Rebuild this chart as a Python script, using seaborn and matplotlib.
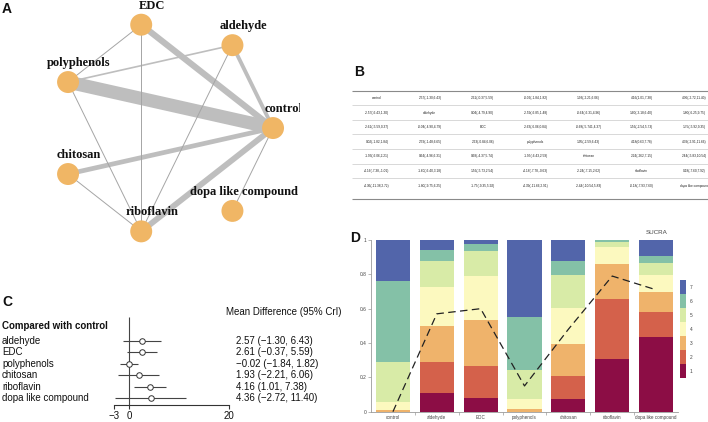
import numpy as np
import pandas as pd
import matplotlib
matplotlib.use("Agg")
import matplotlib.pyplot as plt
import seaborn as sns

# ---------------- data ----------------
nodes = ["control", "aldehyde", "EDC", "polyphenols", "chitosan", "riboflavin", "dopa like compound"]

edge_from = ["polyphenols", "EDC", "riboflavin", "chitosan", "aldehyde", "polyphenols",
             "EDC", "EDC", "polyphenols", "aldehyde", "chitosan", "dopa like compound"]
edge_to = ["control", "control", "control", "control", "control", "aldehyde",
           "polyphenols", "riboflavin", "riboflavin", "riboflavin", "riboflavin", "control"]
edge_weight = [9.5, 4.5, 4.2, 3.4, 2.8, 1.2, 0.7, 0.7, 0.7, 0.7, 0.7, 0.7]

league_rows = [
    ["control", "2.57(-1.30,6.43)", "2.61(-0.37,5.59)", "-0.02(-1.84,1.82)", "1.93(-2.21,6.06)", "4.16(1.01,7.38)", "4.36(-2.72,11.40)"],
    ["-2.57(-6.43,1.30)", "aldehyde", "0.04(-4.79,4.90)", "-2.59(-6.85,1.48)", "-0.64(-6.31,4.96)", "1.60(-3.18,6.40)", "1.80(-6.25,9.75)"],
    ["-2.61(-5.59,0.37)", "-0.04(-4.90,4.79)", "EDC", "-2.63(-6.06,0.84)", "-0.68(-5.741,4.37)", "1.56(-2.54,5.73)", "1.75(-5.92,9.35)"],
    ["0.02(-1.82,1.84)", "2.59(-1.48,6.65)", "2.63(-0.84,6.06)", "polyphenols", "1.95(-2.59,6.43)", "4.18(0.63,7.78)", "4.39(-2.91,11.66)"],
    ["-1.93(-6.06,2.21)", "0.64(-4.96,6.31)", "0.68(-4.37,5.74)", "-1.95(-6.43,2.59)", "chitosan", "2.24(-262,7.15)", "2.44(-5.83,10.54)"],
    ["-4.16(-7.38,-1.01)", "-1.60(-6.40,3.18)", "1.56(-5.73,2.54)", "-4.18(-7.78,-0.63)", "-2.24(-7.15,2.62)", "riboflavin", "0.18(-7.60,7.92)"],
    ["-4.36(-11.38,2.72)", "-1.80(-9.75,6.25)", "-1.75(-9.35,5.92)", "-4.39(-11.66,2.91)", "-2.44(-10.54,5.83)", "-0.18(-7.93,7.60)", "dopa like compound"],
]

forest_treat = ["aldehyde", "EDC", "polyphenols", "chitosan", "riboflavin", "dopa like compound"]
forest_md = [2.57, 2.61, -0.02, 1.93, 4.16, 4.36]
forest_lo = [-1.30, -0.37, -1.84, -2.21, 1.01, -2.72]
forest_hi = [6.43, 5.59, 1.82, 6.06, 7.38, 11.40]
forest_ticks = [-3, 0, 20]

rank_cats = ["control", "aldehyde", "EDC", "polyphenols", "chitosan", "riboflavin", "dopa like compound"]
rank_p1 = [0.000, 0.107, 0.082, 0.000, 0.074, 0.307, 0.437]
rank_p2 = [0.000, 0.181, 0.186, 0.000, 0.136, 0.349, 0.145]
rank_p3 = [0.010, 0.213, 0.266, 0.017, 0.184, 0.204, 0.113]
rank_p4 = [0.045, 0.227, 0.256, 0.057, 0.212, 0.101, 0.101]
rank_p5 = [0.236, 0.151, 0.148, 0.169, 0.190, 0.029, 0.072]
rank_p6 = [0.472, 0.063, 0.037, 0.307, 0.082, 0.008, 0.039]
rank_p7 = [0.237, 0.058, 0.025, 0.450, 0.122, 0.002, 0.093]
sucra = [0.00, 0.57, 0.60, 0.15, 0.48, 0.79, 0.71]
rank_labels = ["1", "2", "3", "4", "5", "6", "7"]
rank_colors = ["#8C0D45", "#D4614B", "#EFB36B", "#FCF9BF", "#D8EBA7", "#84C1A7", "#5265AA"]

# ---------------- figure ----------------
sns.set_theme(style="white")
plt.rcParams["font.family"] = ["Liberation Sans", "DejaVu Sans"]

W, H = 708, 422
fig = plt.figure(figsize=(W / 100, H / 100), dpi=100)


def rect(x0, y0, x1, y1):
    return [x0 / W, 1 - y1 / H, (x1 - x0) / W, (y1 - y0) / H]


def letter(x, y, s):
    fig.text(x / W, 1 - y / H, s, fontsize=10, fontweight="bold", ha="left", va="center", color="#111")


# ---- Panel A: network ----
axA = fig.add_axes(rect(0, 0, 300, 260))
ang = 2 * np.pi * np.arange(len(nodes)) / len(nodes)
pos = {n: (np.cos(a), np.sin(a)) for n, a in zip(nodes, ang)}
for a, b, w in zip(edge_from, edge_to, edge_weight):
    (x0, y0), (x1, y1) = pos[a], pos[b]
    axA.plot([x0, x1], [y0, y1], color="#BEBEBE" if w > 1 else "#A5A5A5", lw=w,
             solid_capstyle="butt", zorder=1)
node_df = pd.DataFrame({"x": [pos[n][0] for n in nodes], "y": [pos[n][1] for n in nodes]})
sns.scatterplot(data=node_df, x="x", y="y", s=250, color="#F0B665", edgecolor="none",
                ax=axA, zorder=3, legend=False)
for n in nodes:
    axA.annotate(n, pos[n], xytext=(11, 19), textcoords="offset pixels", ha="center", va="center",
                 fontfamily="Liberation Serif", fontweight="bold", fontsize=9, color="#111",
                 clip_on=True, annotation_clip=False, zorder=4)
axA.set_xlim(-1.532, 1.250)
axA.set_ylim(-1.245, 1.208)
axA.axis("off")
letter(2, 9, "A")

# ---- Panel B: league table ----
axB = fig.add_axes(rect(340, 60, 708, 230))
axB.set_xlim(340, 708)
axB.set_ylim(230, 60)
axB.axis("off")
row_y0, row_dy = 98, 14.6
col_x0, col_dx = 377, 52.9
nrow = len(league_rows)
line_y = [row_y0 - row_dy / 2 + row_dy * k for k in range(nrow)] + [row_y0 + row_dy * (nrow - 1) + 13.5]
for k, yy in enumerate(line_y):
    edge = k in (0, nrow)
    axB.hlines(yy, 352, 708, color="#8A8A8A" if edge else "#C9C9C9", lw=0.8 if edge else 0.5)
for i, row in enumerate(league_rows):
    for j, s in enumerate(row):
        axB.text(col_x0 + col_dx * j, row_y0 + row_dy * i, s, ha="center", va="center",
                 fontsize=2.3, color="#222")
letter(354, 72, "B")

# ---- Panel C: forest plot ----
axC = fig.add_axes(rect(0, 290, 300, 420))
px_per_unit, zero_px = 5.0, 129.0
row0_px, rowstep_px = 340.7, 11.47
top_px, bot_px = 290, 420


def cx(px):
    return (px - zero_px) / px_per_unit


def cy(px):
    return (px - row0_px) / rowstep_px


axC.set_xlim(cx(0), cx(300))
axC.set_ylim(cy(bot_px), cy(top_px))
axis_y = cy(405)
for i, (t, m, lo, hi) in enumerate(zip(forest_treat, forest_md, forest_lo, forest_hi)):
    axC.hlines(i, lo, hi, color="#444", lw=0.8, zorder=2)
    axC.plot(m, i, "o", mfc="white", mec="#333", ms=4, mew=0.7, zorder=3)
    axC.text(cx(2), i, t, ha="left", va="center", fontsize=7, color="#111")
    lab = f"{m:.2f} ({lo:.2f}, {hi:.2f})".replace("-", "\u2212")
    axC.text(cx(236), i, lab, ha="left", va="center", fontsize=7, color="#111")
axC.vlines(0, cy(316.5), axis_y, color="#444", lw=0.8, zorder=1)
axC.text(cx(2), cy(326), "Compared with control", ha="left", va="center", fontsize=7,
         fontweight="bold", color="#111")
axC.text(cx(225.5), cy(312), "Mean Difference (95% CrI)", ha="left", va="center", fontsize=7,
         color="#111")
for s in ["top", "right", "left"]:
    axC.spines[s].set_visible(False)
axC.spines["bottom"].set_position(("data", axis_y))
axC.spines["bottom"].set_bounds(forest_ticks[0], forest_ticks[-1])
axC.spines["bottom"].set_color("#333")
axC.spines["bottom"].set_linewidth(0.8)
axC.set_xticks(forest_ticks)
axC.set_xticklabels([str(t).replace("-", "\u2212") for t in forest_ticks])
axC.set_yticks([])
axC.tick_params(axis="x", bottom=True, direction="out", length=3, width=0.8, color="#333",
                labelsize=7, pad=1, labelcolor="#111")
axC.patch.set_alpha(0)
letter(2, 302, "C")

# ---- Panel D: rankogram ----
axD = fig.add_axes(rect(371, 240, 678, 411.7))
probs = np.vstack([rank_p1, rank_p2, rank_p3, rank_p4, rank_p5, rank_p6, rank_p7])
cum = np.cumsum(probs, axis=0)
for k in range(len(rank_labels) - 1, -1, -1):
    sns.barplot(x=rank_cats, y=cum[k], color=rank_colors[k], width=0.78, saturation=1,
                errorbar=None, ax=axD, linewidth=0)
axD.plot(np.arange(len(rank_cats)), sucra, color="#222", lw=0.9, ls=(0, (6, 3.5)), zorder=5)
axD.set_xlim(-0.5, len(rank_cats) - 0.5)
axD.set_ylim(0, 1)
axD.set_xlabel("")
axD.set_ylabel("")
for s in ["top", "right"]:
    axD.spines[s].set_visible(False)
for s in ["left", "bottom"]:
    axD.spines[s].set_color("#9A9A9A")
    axD.spines[s].set_linewidth(0.6)
yt = [0, 0.2, 0.4, 0.6, 0.8, 1]
axD.set_yticks(yt)
axD.set_yticklabels(["0", "0.2", "0.4", "0.6", "0.8", "1"])
axD.set_xticks(np.arange(0.5, len(rank_cats) - 1, 1), minor=True)
axD.tick_params(axis="y", left=True, length=2, width=0.5, color="#9A9A9A", labelsize=3.5,
                pad=1.5, labelcolor="#444")
axD.tick_params(axis="x", which="major", bottom=False, length=0, labelsize=3.3, pad=2.2,
                labelcolor="#444")
axD.tick_params(axis="x", which="minor", bottom=True, length=2, width=0.5, color="#9A9A9A")
fig.text(657 / W, 1 - 233 / H, "SUCRA", fontsize=4.5, ha="center", va="center", color="#444")
letter(350, 238, "D")

axL = fig.add_axes(rect(680, 280, 685.5, 378))
axL.bar(np.zeros(len(rank_labels)), np.ones(len(rank_labels)), bottom=np.arange(len(rank_labels)),
        color=rank_colors, width=1, linewidth=0)
axL.set_xlim(-0.5, 0.5)
axL.set_ylim(0, len(rank_labels))
axL.set_xticks([])
axL.set_yticks(np.arange(len(rank_labels)) + 0.5)
axL.set_yticklabels(rank_labels)
axL.yaxis.tick_right()
axL.tick_params(axis="y", length=0, labelsize=3.5, pad=3, labelcolor="#444")
for s in axL.spines.values():
    s.set_visible(False)

fig.savefig("out.png", dpi=100)
